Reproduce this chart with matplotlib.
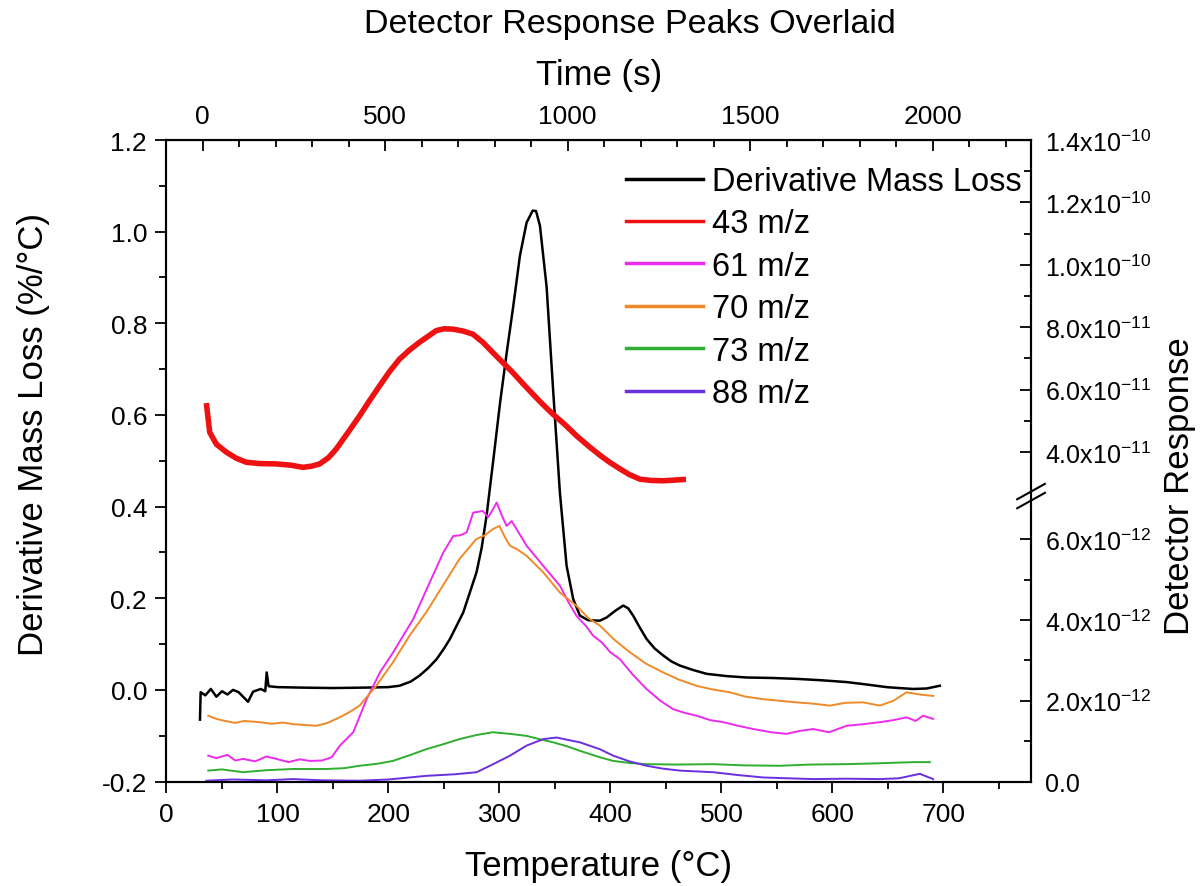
import numpy as np
import matplotlib
matplotlib.use('Agg')
import matplotlib.pyplot as plt
from matplotlib.ticker import FixedLocator, MultipleLocator, FormatStrFormatter

plt.rcParams['font.family'] = ['Liberation Sans', 'DejaVu Sans']
plt.rcParams['mathtext.fontset'] = 'custom'
plt.rcParams['mathtext.rm'] = 'Liberation Sans'

# time axis on top: t = (T - T_START) * SEC_PER_DEG
T_START = 32.5
SEC_PER_DEG = 3.04

# derivative mass loss (%/°C), left axis
dml_T = [30.2, 30.8, 35, 40, 45, 50, 55, 60, 65, 73.5, 78, 85, 89, 90.3, 92, 100, 120, 150, 180,
         200, 210, 220, 228, 236, 243.4, 250, 255.4, 261, 267.4, 273, 279.4, 284, 288.4, 294.4,
         300.5, 306.5, 312.5, 318.5, 324.5, 330, 333, 336.5, 342.5, 348.5, 354.5, 360.5, 366.5,
         372.5, 380, 390.5, 396.6, 404, 411.5, 416, 420.5, 426, 432.6, 440, 447.6, 455, 462.6,
         475, 486.7, 505, 522.7, 545, 567.7, 590, 612.8, 630, 648.8, 660, 672.8, 685, 696.8]
dml_v = [-0.065, -0.005, -0.012, 0.002, -0.015, -0.003, -0.010, 0.000, -0.005, -0.026, -0.004,
         0.002, -0.003, 0.038, 0.008, 0.006, 0.005, 0.004, 0.005, 0.006, 0.009, 0.018, 0.031,
         0.048, 0.067, 0.090, 0.111, 0.138, 0.169, 0.210, 0.257, 0.310, 0.380, 0.500, 0.625,
         0.735, 0.838, 0.948, 1.020, 1.046, 1.045, 1.013, 0.880, 0.650, 0.430, 0.271, 0.198,
         0.162, 0.152, 0.151, 0.158, 0.172, 0.184, 0.178, 0.162, 0.138, 0.111, 0.090, 0.075,
         0.062, 0.053, 0.043, 0.035, 0.030, 0.027, 0.026, 0.024, 0.021, 0.017, 0.012, 0.006,
         0.004, 0.002, 0.003, 0.009]

# detector response, right axis
mz43_T = [36.2, 39, 45, 54.2, 63, 72.2, 85, 99, 112, 123, 131, 138, 146, 153, 163, 174, 183, 192,
          201, 210, 219, 228, 243, 250, 258, 267, 276, 285, 294, 303, 312, 321, 330, 339, 348,
          359, 369.5, 380, 390.5, 399, 408.6, 417, 426.6, 437, 447.6, 457, 465.6]
mz43_v = [5.48e-11, 4.63e-11, 4.25e-11, 3.99e-11, 3.80e-11, 3.67e-11, 3.63e-11, 3.62e-11, 3.58e-11,
          3.51e-11, 3.55e-11, 3.62e-11, 3.82e-11, 4.10e-11, 4.60e-11, 5.16e-11, 5.65e-11, 6.12e-11,
          6.58e-11, 6.98e-11, 7.27e-11, 7.52e-11, 7.89e-11, 7.95e-11, 7.94e-11, 7.88e-11, 7.78e-11,
          7.52e-11, 7.19e-11, 6.87e-11, 6.55e-11, 6.20e-11, 5.86e-11, 5.53e-11, 5.22e-11, 4.88e-11,
          4.52e-11, 4.20e-11, 3.90e-11, 3.68e-11, 3.46e-11, 3.28e-11, 3.13e-11, 3.09e-11, 3.08e-11,
          3.10e-11, 3.12e-11]

mz61_T = [37.7, 45, 55, 62, 69, 80, 90, 99, 110, 120, 129, 140, 148.8, 156.3, 168.3, 180.4, 192.3,
          204.3, 213, 222.3, 234.4, 249.4, 258.4, 265, 270.5, 276.4, 285, 290, 294.4, 297.5, 302,
          306.5, 311, 315.5, 324.5, 339.5, 354.5, 362, 369.5, 378, 384.5, 392, 400, 408.6, 420,
          432.6, 445, 456.6, 467, 477.6, 490, 501.6, 515, 528.6, 545, 558.7, 570, 582.7, 597,
          612.8, 628, 642.8, 655, 666.8, 675, 681.8, 690.8]
mz61_v = [0.64e-12, 0.58e-12, 0.66e-12, 0.52e-12, 0.56e-12, 0.50e-12, 0.62e-12, 0.56e-12, 0.48e-12,
          0.55e-12, 0.51e-12, 0.52e-12, 0.60e-12, 0.89e-12, 1.22e-12, 2.04e-12, 2.70e-12, 3.20e-12,
          3.60e-12, 4.02e-12, 4.76e-12, 5.67e-12, 6.08e-12, 6.10e-12, 6.17e-12, 6.66e-12, 6.70e-12,
          6.55e-12, 6.75e-12, 6.91e-12, 6.60e-12, 6.33e-12, 6.45e-12, 6.25e-12, 5.84e-12, 5.34e-12,
          4.85e-12, 4.45e-12, 4.10e-12, 3.85e-12, 3.61e-12, 3.45e-12, 3.20e-12, 3.03e-12, 2.65e-12,
          2.29e-12, 2.00e-12, 1.79e-12, 1.70e-12, 1.63e-12, 1.52e-12, 1.47e-12, 1.38e-12, 1.30e-12,
          1.22e-12, 1.18e-12, 1.25e-12, 1.30e-12, 1.22e-12, 1.38e-12, 1.42e-12, 1.47e-12, 1.52e-12,
          1.59e-12, 1.50e-12, 1.63e-12, 1.55e-12]

mz70_T = [37.7, 45, 53, 62, 70, 84, 95, 105, 114, 125, 135, 145, 156, 165, 174, 189, 204, 219,
          234, 249, 264, 279, 287, 294, 300, 305, 309.5, 316, 324.5, 339.5, 354.5, 369.5, 380,
          390.5, 404, 417.6, 432, 447.6, 462, 477.6, 492, 507.7, 522, 537.7, 552, 567.7, 582,
          597.7, 612, 627.8, 642.8, 655, 666.8, 680, 690.8]
mz70_v = [1.63e-12, 1.55e-12, 1.50e-12, 1.45e-12, 1.50e-12, 1.47e-12, 1.43e-12, 1.46e-12, 1.42e-12,
          1.40e-12, 1.38e-12, 1.45e-12, 1.59e-12, 1.72e-12, 1.88e-12, 2.37e-12, 2.95e-12, 3.61e-12,
          4.19e-12, 4.85e-12, 5.51e-12, 6.00e-12, 6.10e-12, 6.25e-12, 6.33e-12, 6.05e-12, 5.84e-12,
          5.75e-12, 5.59e-12, 5.18e-12, 4.68e-12, 4.35e-12, 4.05e-12, 3.86e-12, 3.50e-12, 3.20e-12,
          2.92e-12, 2.70e-12, 2.52e-12, 2.37e-12, 2.28e-12, 2.21e-12, 2.10e-12, 2.04e-12, 2.00e-12,
          1.96e-12, 1.93e-12, 1.88e-12, 1.95e-12, 1.96e-12, 1.88e-12, 2.00e-12, 2.21e-12, 2.15e-12,
          2.12e-12]

mz73_T = [37.7, 50, 69, 90, 114, 144, 160, 174, 190, 204, 219, 234, 249, 264, 279, 294, 309.5,
          324.5, 336, 348.5, 360, 372.5, 390.5, 402.5, 417, 432.6, 460, 492.6, 520, 552.7, 580,
          612.8, 640, 672.8, 687.8]
mz73_v = [0.27e-12, 0.30e-12, 0.23e-12, 0.28e-12, 0.31e-12, 0.31e-12, 0.33e-12, 0.39e-12, 0.44e-12,
          0.51e-12, 0.65e-12, 0.80e-12, 0.92e-12, 1.05e-12, 1.15e-12, 1.22e-12, 1.18e-12, 1.13e-12,
          1.05e-12, 0.97e-12, 0.88e-12, 0.76e-12, 0.60e-12, 0.51e-12, 0.46e-12, 0.43e-12, 0.42e-12,
          0.43e-12, 0.40e-12, 0.39e-12, 0.42e-12, 0.43e-12, 0.45e-12, 0.48e-12, 0.48e-12]

mz88_T = [36, 60, 90, 114, 140, 174, 200, 234, 260, 279.4, 294.4, 309.5, 324.5, 339.5, 351.5, 360,
          372.5, 390.5, 402.5, 417, 432.6, 447, 462.6, 492.6, 515, 537.7, 560, 582.7, 612, 642.8,
          660, 678.8, 690.8]
mz88_v = [0.02e-12, 0.05e-12, 0.03e-12, 0.06e-12, 0.03e-12, 0.02e-12, 0.05e-12, 0.14e-12, 0.18e-12,
          0.23e-12, 0.43e-12, 0.64e-12, 0.89e-12, 1.05e-12, 1.09e-12, 1.04e-12, 0.97e-12, 0.80e-12,
          0.64e-12, 0.50e-12, 0.39e-12, 0.32e-12, 0.27e-12, 0.23e-12, 0.16e-12, 0.10e-12, 0.08e-12,
          0.06e-12, 0.07e-12, 0.06e-12, 0.08e-12, 0.19e-12, 0.06e-12]

# broken right axis: lower piece 0..7.07e-12, upper piece 2.59e-11..1.4e-10
BRK = 0.445
seg_val = [0, 7.07e-12, 2.59e-11, 1.4e-10]
seg_pos = [0, BRK, BRK, 1]

right_ticks = [0, 2e-12, 4e-12, 6e-12, 4e-11, 6e-11, 8e-11, 1e-10, 1.2e-10, 1.4e-10]
right_labels = ['0.0', r'$\mathregular{2.0x10^{-12}}$', r'$\mathregular{4.0x10^{-12}}$',
                r'$\mathregular{6.0x10^{-12}}$', r'$\mathregular{4.0x10^{-11}}$',
                r'$\mathregular{6.0x10^{-11}}$', r'$\mathregular{8.0x10^{-11}}$',
                r'$\mathregular{1.0x10^{-10}}$', r'$\mathregular{1.2x10^{-10}}$',
                r'$\mathregular{1.4x10^{-10}}$']
right_minor = [1e-12, 3e-12, 5e-12, 5e-11, 7e-11, 9e-11, 1.1e-10, 1.3e-10]


def fwd(v):
    return np.interp(v, seg_val, seg_pos)


def inv(p):
    return np.interp(p, seg_pos, seg_val)


def T_to_t(T):
    return (np.asarray(T) - T_START) * SEC_PER_DEG


def t_to_T(t):
    return np.asarray(t) / SEC_PER_DEG + T_START


fig = plt.figure(figsize=(12.01, 8.87), dpi=100)
ax = fig.add_axes([0.1386, 0.1178, 0.7199, 0.7232])
ax2 = ax.twinx()

ax.plot(dml_T, dml_v, color='black', linewidth=1.8, label='Derivative Mass Loss')
ax2.plot(mz43_T, mz43_v, color='#ee1111', linewidth=4.0, label='43 m/z')
ax2.plot(mz61_T, mz61_v, color='#ec2bec', linewidth=1.4, label='61 m/z')
ax2.plot(mz70_T, mz70_v, color='#f08a28', linewidth=1.4, label='70 m/z')
ax2.plot(mz73_T, mz73_v, color='#2fae2f', linewidth=1.4, label='73 m/z')
ax2.plot(mz88_T, mz88_v, color='#6a2fe0', linewidth=1.4, label='88 m/z')

# left / bottom axes
ax.set_xlim(0, 779)
ax.set_ylim(-0.2, 1.2)
ax.set_xticks(range(0, 701, 100))
ax.xaxis.set_minor_locator(MultipleLocator(50))
ax.yaxis.set_major_locator(MultipleLocator(0.2))
ax.yaxis.set_minor_locator(MultipleLocator(0.1))
ax.yaxis.set_major_formatter(FormatStrFormatter('%.1f'))
ax.tick_params(which='both', direction='out', top=False, right=False, width=1.3, labelsize=19)
ax.tick_params(which='major', length=8)
ax.tick_params(which='minor', length=5)
ax.tick_params(axis='x', pad=7)
ax.tick_params(axis='y', pad=6)

# right axis
ax2.set_yscale('function', functions=(fwd, inv))
ax2.set_ylim(0, 1.4e-10)
ax2.yaxis.set_major_locator(FixedLocator(right_ticks))
ax2.yaxis.set_minor_locator(FixedLocator(right_minor))
ax2.set_yticklabels(right_labels)
ax2.tick_params(which='both', direction='in', width=1.3, labelsize=18, pad=10)
ax2.tick_params(which='major', length=8)
ax2.tick_params(which='minor', length=5)

for a in (ax, ax2):
    for s in a.spines.values():
        s.set_linewidth(1.5)

# break marks on the right spine
for dy in (-0.007, 0.007):
    ax2.plot([1 - 0.016, 1 + 0.016], [BRK + dy - 0.012, BRK + dy + 0.012], color='black',
             linewidth=1.5, transform=ax2.transAxes, clip_on=False)

# top time axis
secax = ax.secondary_xaxis('top', functions=(T_to_t, t_to_T))
secax.xaxis.set_major_locator(MultipleLocator(500))
secax.xaxis.set_minor_locator(MultipleLocator(100))
secax.tick_params(which='both', direction='in', width=1.3, labelsize=19, pad=9)
secax.tick_params(which='major', length=8)
secax.tick_params(which='minor', length=5)
secax.set_xlabel('Time (s)', fontsize=25, labelpad=14)

ax.set_xlabel('Temperature (°C)', fontsize=25, va='center')
ax.xaxis.set_label_coords(0.5, -0.1317)
ax.set_ylabel('Derivative Mass Loss (%/°C)', fontsize=25, va='center')
ax.yaxis.set_label_coords(-0.154, 0.542)
ax2.set_ylabel('Detector Response', fontsize=25, va='center', rotation=90)
ax2.yaxis.set_label_coords(1.172, 0.462)

fig.text(630 / 1201, 1 - 25 / 887, 'Detector Response Peaks Overlaid', fontsize=24.5,
         ha='center', va='center')

h1, l1 = ax.get_legend_handles_labels()
h2, l2 = ax2.get_legend_handles_labels()
leg = ax2.legend(h1 + h2, l1 + l2, loc='upper left', bbox_to_anchor=(626 / 1201, 1 - 167 / 887),
                 bbox_transform=fig.transFigure, frameon=False, fontsize=23.5, borderpad=0,
                 borderaxespad=0, labelspacing=0.35, handlelength=2.35, handletextpad=0.3)
for line in leg.get_lines():
    line.set_linewidth(2.5)

fig.savefig('out.png', dpi=100)
